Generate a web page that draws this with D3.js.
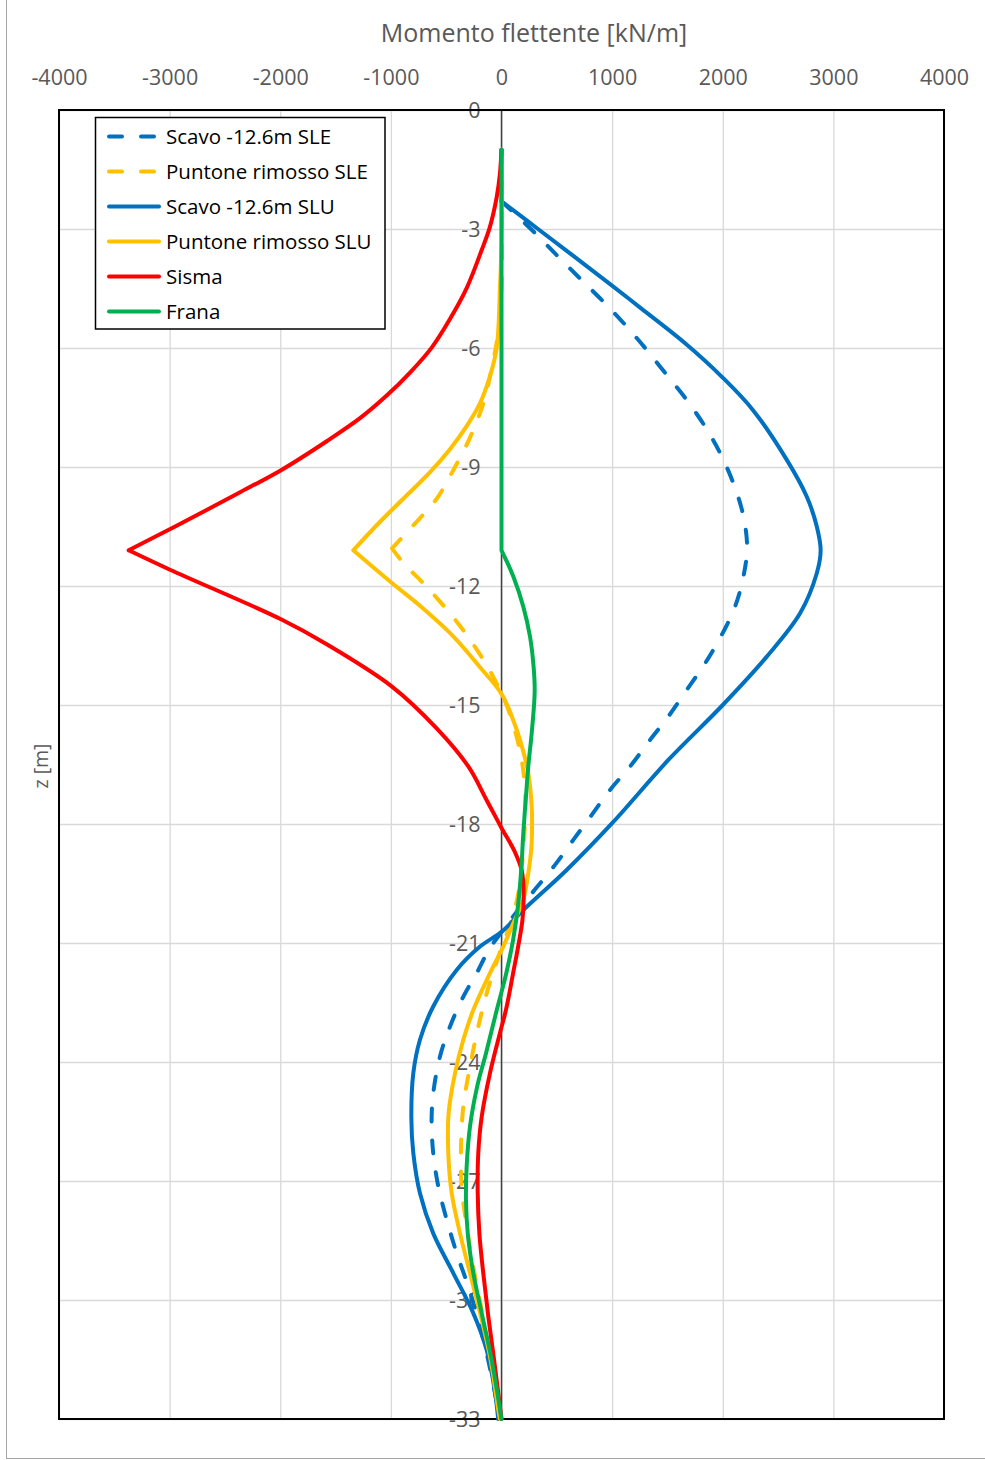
<!DOCTYPE html>
<html>
<head>
<meta charset="utf-8">
<script src="https://cdn.jsdelivr.net/npm/d3@7/dist/d3.min.js"></script>
<style>
  html, body { margin: 0; padding: 0; background: #fff; }
  svg { display: block; font-family: "Open Sans", sans-serif; }
</style>
</head>
<body>
<svg id="chart" width="985" height="1460"></svg>
<script>
// Bending moment envelopes along the wall depth: [z (m), M (kN/m)]
const momentTicks = [-4000, -3000, -2000, -1000, 0, 1000, 2000, 3000, 4000];
const depthTicks = [0, -3, -6, -9, -12, -15, -18, -21, -24, -27, -30, -33];

const scavoSLE = [
  [-1, 0], [-2.3, 0], [-3.02, 273], [-3.7, 514], [-4.29, 725], [-4.83, 920], [-5.46, 1132],
  [-6.05, 1313], [-6.68, 1494], [-7.31, 1674], [-7.98, 1840], [-8.65, 1976], [-9.41, 2096],
  [-10.17, 2181], [-11.0, 2220], [-11.76, 2187], [-12.52, 2111], [-13.23, 1991], [-13.95, 1840],
  [-14.62, 1674], [-15.29, 1508], [-15.88, 1343], [-16.55, 1162], [-17.14, 981], [-17.77, 816],
  [-18.4, 649], [-19.03, 484], [-19.66, 300], [-20.17, 150], [-20.72, 0], [-21.2, -120],
  [-21.76, -224], [-22.35, -345], [-23.11, -466], [-23.86, -556], [-24.79, -617], [-25.5, -632],
  [-26.3, -617], [-27.14, -571], [-27.98, -495], [-28.82, -405], [-29.66, -300], [-30.5, -210],
  [-31.34, -134], [-32.35, -59], [-33, -20]
];

const puntoneSLE = [
  [-1, 0], [-4.5, 0], [-5.6, -30], [-6.52, -89], [-7.39, -164], [-8.26, -285], [-9.08, -436],
  [-9.8, -586], [-10.47, -797], [-11.05, -990], [-11.44, -880], [-12.02, -676], [-12.79, -436],
  [-13.47, -255], [-14.14, -104], [-15.01, 47], [-16.07, 160], [-17.06, 212], [-17.9, 212],
  [-18.74, 195], [-19.75, 152], [-20.42, 92], [-21.0, 16], [-21.6, -59], [-22.27, -134],
  [-23.11, -210], [-24.12, -285], [-25.12, -345], [-26.13, -366], [-27.14, -360],
  [-28.15, -315], [-29.16, -255], [-30.25, -179], [-31.51, -104], [-33, -10]
];

const scavoSLU = [
  [-1, 0], [-2.3, 0], [-3.0, 330], [-4.44, 1005], [-5.0, 1262], [-5.88, 1660], [-6.72, 1990],
  [-7.56, 2272], [-8.82, 2579], [-9.75, 2760], [-10.5, 2850], [-11.1, 2885], [-11.68, 2850],
  [-12.69, 2699], [-13.78, 2398], [-15.0, 2000], [-16.38, 1510], [-17.98, 1000], [-19.16, 589],
  [-20.17, 197], [-20.72, 0], [-21.09, -194], [-21.68, -405], [-22.6, -617], [-23.44, -737],
  [-24.28, -797], [-25.4, -815], [-26.3, -797], [-27.31, -737], [-28.32, -617], [-29.32, -436],
  [-30.33, -255], [-31.26, -134], [-32.3, -60], [-33, -30]
];

const puntoneSLU = [
  [-1, 0], [-3.36, 0], [-4.49, -14], [-5.99, -43], [-6.71, -104], [-7.39, -194], [-7.97, -315],
  [-8.55, -466], [-9.13, -646], [-9.8, -888], [-10.38, -1098], [-11.1, -1340], [-11.92, -993],
  [-12.5, -737], [-13.27, -436], [-14.05, -194], [-14.72, 0], [-15.3, 95], [-15.88, 167],
  [-16.72, 242], [-17.56, 273], [-18.1, 276], [-18.6, 270], [-19.24, 242], [-19.91, 197],
  [-20.5, 107], [-21.09, 16], [-21.76, -104], [-22.69, -255], [-23.44, -345], [-24.28, -420],
  [-25.29, -478], [-26.3, -481], [-27.31, -450], [-28.32, -375], [-29.32, -285], [-30.33, -194],
  [-31.43, -104], [-32.77, -29], [-33, -15]
];

const sisma = [
  [-1, 0], [-1.6, -14], [-2.19, -43], [-2.94, -104], [-3.53, -179], [-4.49, -315], [-5.27, -466],
  [-5.99, -631], [-6.62, -827], [-7.2, -1038], [-7.77, -1279], [-8.35, -1580], [-9.08, -1993],
  [-9.66, -2380], [-10.09, -2670], [-10.5, -2950], [-11.1, -3370], [-11.59, -2997],
  [-12.84, -1993], [-13.47, -1580], [-14.53, -993], [-15.59, -586], [-16.55, -300],
  [-17.4, -134], [-18.1, 0], [-18.7, 120], [-19.2, 185], [-19.8, 200], [-20.4, 190],
  [-21.1, 150], [-21.76, 105], [-22.69, 40], [-23.27, -14], [-24.28, -104], [-25.38, -179],
  [-26.3, -210], [-27.3, -215], [-28.32, -200], [-29.32, -165], [-30.42, -119], [-31.68, -59],
  [-33, 0]
];

const frana = [
  [-1, 0], [-11.1, 0], [-11.76, 107], [-12.52, 197], [-13.28, 258], [-14.03, 290], [-14.65, 300],
  [-15.71, 273], [-16.55, 242], [-17.39, 219], [-18.23, 197], [-19.08, 180], [-20.0, 152],
  [-20.92, 105], [-21.8, 40], [-22.69, -43], [-23.78, -140], [-24.62, -220], [-25.63, -285],
  [-26.64, -315], [-27.48, -321], [-28.32, -305], [-29.32, -255], [-30.33, -179], [-31.51, -89],
  [-33, 0]
];

const seriesNames = ["Scavo -12.6m SLE", "Puntone rimosso SLE", "Scavo -12.6m SLU",
                     "Puntone rimosso SLU", "Sisma", "Frana"];
const seriesData = [scavoSLE, puntoneSLE, scavoSLU, puntoneSLU, sisma, frana];
// depths where a curve has a sharp corner
const seriesKinks = [[-2.3], [-11.05], [-2.3], [-11.1], [-11.1], [-11.1]];
const seriesColors = ["#0070C0", "#FFC000", "#0070C0", "#FFC000", "#FF0000", "#00B050"];
const seriesDashed = [true, true, false, false, false, false];

const svg = d3.select("#chart");
const W = 985;
const plot = { left: 59, right: 944, top: 110, bottom: 1419 };

const x = d3.scaleLinear().domain([-4000, 4000]).range([plot.left, plot.right]);
const y = d3.scaleLinear().domain([0, -33]).range([plot.top, plot.bottom]);
const plainNumber = d => String(d);

// outer chart frame
svg.append("rect")
  .attr("x", 6.5).attr("y", -2).attr("width", W).attr("height", 1460.5)
  .attr("fill", "#fff").attr("stroke", "#a6a6a6").attr("stroke-width", 1);

// gridlines
svg.append("g")
  .attr("transform", `translate(0,${plot.top})`)
  .call(d3.axisTop(x).tickValues(momentTicks).tickSize(-(plot.bottom - plot.top)).tickFormat(""))
  .call(g => g.select(".domain").remove())
  .call(g => g.selectAll("line").attr("stroke", "#d9d9d9").attr("stroke-width", 1.3));

svg.append("g")
  .attr("transform", `translate(${plot.left},0)`)
  .call(d3.axisLeft(y).tickValues(depthTicks).tickSize(-(plot.right - plot.left)).tickFormat(""))
  .call(g => g.select(".domain").remove())
  .call(g => g.selectAll("line").attr("stroke", "#d9d9d9").attr("stroke-width", 1.3));

// top moment labels
svg.append("g")
  .attr("transform", `translate(0,${plot.top - 25})`)
  .call(d3.axisTop(x).tickValues(momentTicks).tickSize(0).tickPadding(0).tickFormat(plainNumber))
  .call(g => g.select(".domain").remove())
  .call(g => g.selectAll("text")
    .attr("fill", "#595959").attr("font-size", "21.5px")
    .attr("font-family", "'Open Sans', sans-serif").attr("dy", 0));

// depth axis at M = 0
svg.append("line")
  .attr("x1", x(0)).attr("x2", x(0)).attr("y1", plot.top).attr("y2", plot.bottom)
  .attr("stroke", "#404040").attr("stroke-width", 1.5);

svg.append("g")
  .attr("transform", `translate(${x(0) - 21},0)`)
  .call(d3.axisLeft(y).tickValues(depthTicks).tickSize(0).tickPadding(0).tickFormat(plainNumber))
  .call(g => g.select(".domain").remove())
  .call(g => g.selectAll("text")
    .attr("fill", "#595959").attr("font-size", "21.5px")
    .attr("font-family", "'Open Sans', sans-serif").attr("dy", "0.36em"));

// plot area frame
svg.append("rect")
  .attr("x", plot.left).attr("y", plot.top)
  .attr("width", plot.right - plot.left).attr("height", plot.bottom - plot.top)
  .attr("fill", "none").attr("stroke", "#000").attr("stroke-width", 2);

// titles
svg.append("text")
  .attr("x", 534).attr("y", 42).attr("text-anchor", "middle")
  .attr("fill", "#595959").attr("font-size", "25px")
  .text("Momento flettente [kN/m]");

svg.append("text")
  .attr("transform", "translate(48,766) rotate(-90)")
  .attr("text-anchor", "middle")
  .attr("fill", "#595959").attr("font-size", "19.5px")
  .text("z [m]");

// curves, split at their corners and smoothed in between
const line = d3.line()
  .x(d => x(d[1]))
  .y(d => y(d[0]))
  .curve(d3.curveCatmullRom.alpha(0.5));

function segments(data, kinks) {
  const cuts = kinks.map(k => data.findIndex(d => d[0] === k)).filter(i => i > 0);
  const out = [];
  let start = 0;
  cuts.forEach(c => { out.push(data.slice(start, c + 1)); start = c; });
  out.push(data.slice(start));
  return out;
}

const curves = svg.append("g").attr("fill", "none");
seriesData.forEach((data, i) => {
  const path = segments(data, seriesKinks[i]).map(seg => line(seg)).join("");
  curves.append("path")
    .attr("d", path)
    .attr("stroke", seriesColors[i])
    .attr("stroke-width", 4)
    .attr("stroke-linejoin", "round")
    .attr("stroke-linecap", "round")
    .attr("stroke-dasharray", seriesDashed[i] ? "13,19" : null);
});

// legend
const legend = svg.append("g");
legend.append("rect")
  .attr("x", 95.5).attr("y", 117.5).attr("width", 289.5).attr("height", 211.5)
  .attr("fill", "#fff").attr("stroke", "#000").attr("stroke-width", 1.5);

seriesNames.forEach((name, i) => {
  const cy = 136.5 + i * 35;
  legend.append("line")
    .attr("x1", 109).attr("x2", 159).attr("y1", cy).attr("y2", cy)
    .attr("stroke", seriesColors[i]).attr("stroke-width", 4)
    .attr("stroke-linecap", "round")
    .attr("stroke-dasharray", seriesDashed[i] ? "13,19" : null);
  legend.append("text")
    .attr("x", 166).attr("y", cy + 7.3)
    .attr("fill", "#000").attr("font-size", "20.5px")
    .text(name);
});
</script>
</body>
</html>
